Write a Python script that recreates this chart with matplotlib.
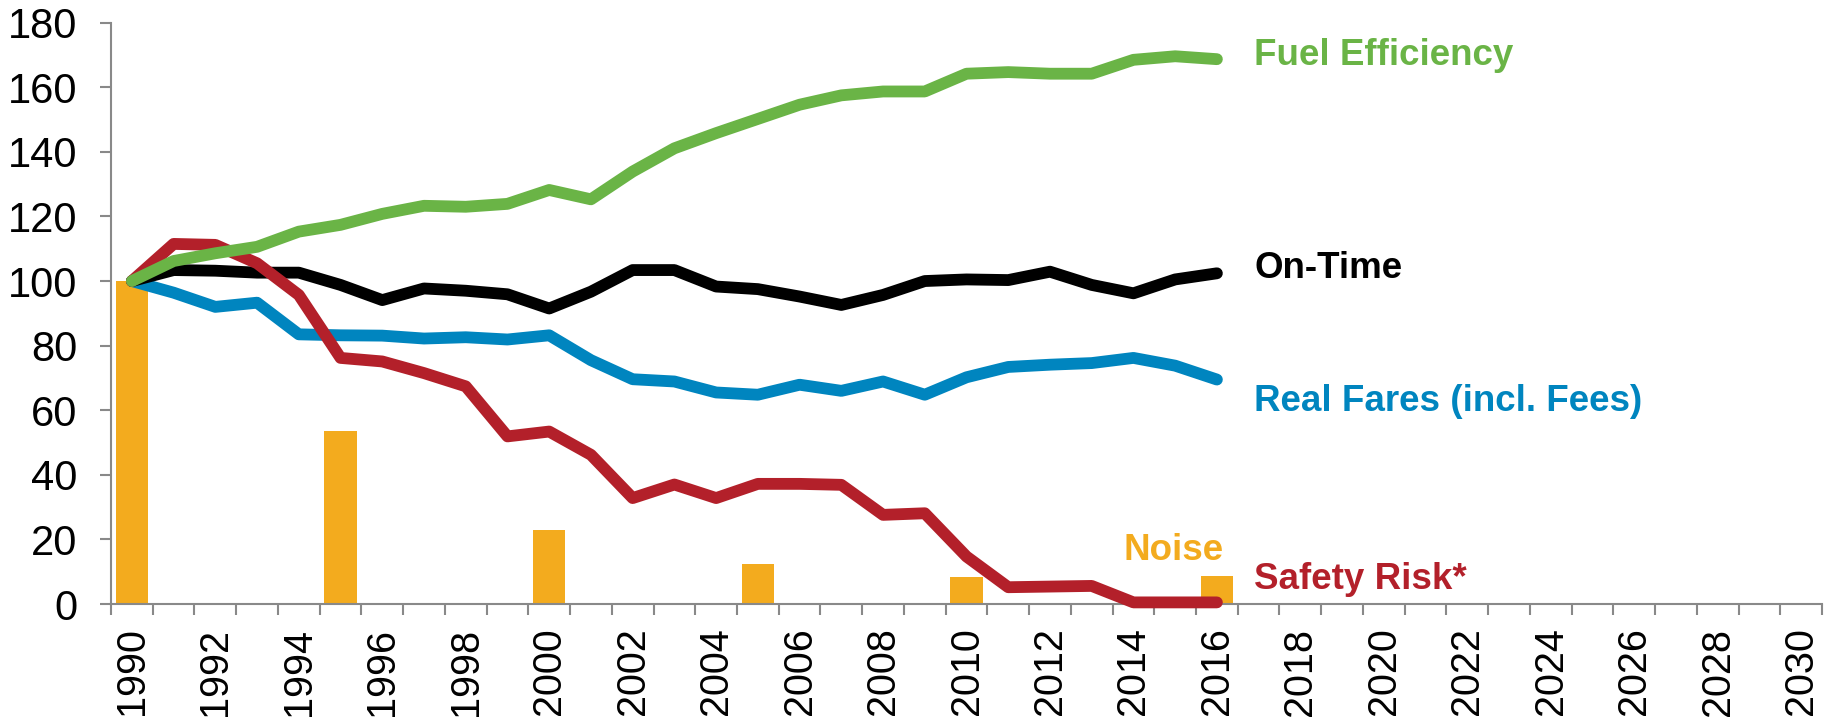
import matplotlib
matplotlib.use("Agg")
import matplotlib.pyplot as plt
from matplotlib.ticker import FixedLocator

plt.rcParams['font.family'] = ['Liberation Sans', 'DejaVu Sans']

years = list(range(1990, 2017))
fuel_efficiency = [100, 106.2, 108.6, 110.6, 115.3, 117.4, 120.8, 123.3, 123.0, 123.9,
                   128.2, 125.3, 133.9, 141.1, 145.8, 150.2, 154.6, 157.5, 158.7, 158.7,
                   164.2, 164.7, 164.2, 164.2, 168.5, 169.6, 168.7]
on_time = [100, 103.4, 103.2, 102.6, 102.6, 98.8, 94.1, 97.7, 97.0, 95.9,
           91.5, 96.7, 103.4, 103.4, 98.3, 97.5, 95.2, 92.6, 95.7, 100.0,
           100.5, 100.3, 102.9, 98.8, 96.2, 100.5, 102.4]
real_fares = [100, 96.4, 92.0, 93.3, 83.5, 83.2, 83.1, 82.2, 82.6, 81.9,
              83.2, 75.5, 69.6, 68.9, 65.5, 64.8, 67.9, 66.0, 68.9, 64.8,
              70.2, 73.4, 74.1, 74.6, 76.2, 73.8, 69.5]
safety_risk = [100, 111.5, 111.2, 105.5, 95.7, 76.2, 75.1, 71.5, 67.4, 51.9,
               53.4, 46.2, 32.8, 37.0, 32.8, 37.2, 37.2, 36.9, 27.6, 28.1,
               14.7, 5.2, 5.4, 5.6, 0.5, 0.5, 0.5]
noise_years = [1990, 1995, 2000, 2005, 2010, 2016]
noise = [100, 53.6, 22.9, 12.4, 8.3, 8.7]

axis_years = list(range(1990, 2031))
tick_label_years = axis_years[::2]
y_ticks = list(range(0, 181, 20))

GREEN = '#6AB446'
BLACK = '#000000'
BLUE = '#0085BF'
RED = '#B3202A'
ORANGE = '#F3AB1E'
GRAY = '#898989'

fig = plt.figure(figsize=(18.38, 7.2), dpi=100)
ax = fig.add_axes([0.0604, 0.1611, 0.9913 - 0.0604, 0.9685 - 0.1611])

ax.bar(noise_years, noise, width=0.77, color=ORANGE, zorder=1)

lw = 8.5
for series, col in [(real_fares, BLUE), (on_time, BLACK), (safety_risk, RED), (fuel_efficiency, GREEN)]:
    ax.plot(years, series, color=col, lw=lw, solid_capstyle='round',
            solid_joinstyle='round', zorder=3, clip_on=False)

ax.set_xlim(axis_years[0] - 0.5, axis_years[-1] + 0.5)
ax.set_ylim(0, 180)

ax.set_xticks(tick_label_years)
ax.set_xticklabels([str(y) for y in tick_label_years], rotation=90, fontsize=28.5)
ax.xaxis.set_minor_locator(FixedLocator([y - 0.5 for y in axis_years] + [axis_years[-1] + 0.5]))
ax.tick_params(axis='x', which='major', length=0, pad=17)
ax.tick_params(axis='x', which='minor', length=8, width=1.5, color=GRAY, direction='out')

ax.set_yticks(y_ticks)
ax.set_yticklabels([str(v) for v in y_ticks], fontsize=30)
ax.tick_params(axis='y', which='major', length=8, width=1.5, color=GRAY, pad=16)

for s in ['top', 'right']:
    ax.spines[s].set_visible(False)
for s in ['left', 'bottom']:
    ax.spines[s].set_color(GRAY)
    ax.spines[s].set_linewidth(1.5)

fs = 26.5
tx = 2016.9
ax.text(tx, 166.9, 'Fuel Efficiency', color=GREEN, fontsize=fs, fontweight='bold', va='baseline', ha='left')
ax.text(tx, 100.8, 'On-Time', color=BLACK, fontsize=fs, fontweight='bold', va='baseline', ha='left')
ax.text(tx, 59.9, 'Real Fares (incl. Fees)', color=BLUE, fontsize=fs, fontweight='bold', va='baseline', ha='left')
ax.text(2014.95, 13.5, 'Noise', color=ORANGE, fontsize=fs, fontweight='bold', va='baseline', ha='center')
ax.text(tx, 4.5, 'Safety Risk*', color=RED, fontsize=fs, fontweight='bold', va='baseline', ha='left')

fig.savefig('out.png', dpi=100)
